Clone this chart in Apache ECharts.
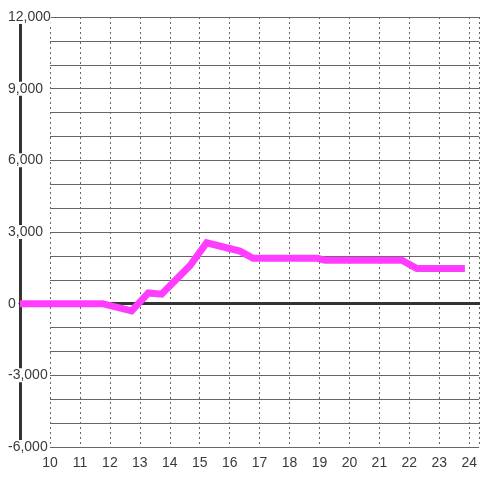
<!DOCTYPE html>
<html>
<head>
<meta charset="utf-8">
<script src="https://cdn.jsdelivr.net/npm/echarts@6/dist/echarts.min.js"></script>
<style>
  html, body { margin: 0; padding: 0; background: #fff; }
  #chart { width: 480px; height: 480px; }
</style>
</head>
<body>
<div id="chart"></div>
<script>
// hours of the day and the running value at each point
const hours = [9, 11.75, 12.72, 13.28, 13.72, 14.67, 15.22, 16.33, 16.77, 18.9, 19.17, 21.73, 22.23, 23.83];
const values = [0, 0, -300, 450, 400, 1600, 2550, 2200, 1900, 1900, 1820, 1820, 1470, 1470];

const Y_MIN = -6000;
const Y_MAX = 12000;
const FONT = 'Liberation Sans, Arial, sans-serif';

const chart = echarts.init(document.getElementById('chart'));

const option = {
  backgroundColor: '#fff',
  animation: false,
  grid: [
    // grid 0: series, left axis line and labels, zero line
    { left: 20, right: 0, top: 17, bottom: 33 },
    // grid 1: only the grid lines and hour labels
    { left: 50, right: 0, top: 17, bottom: 33 }
  ],
  xAxis: [
    {
      gridIndex: 0,
      type: 'value',
      min: 9,
      max: 24.333,
      axisLine: { onZero: true, lineStyle: { color: '#333', width: 3 } },
      axisTick: { show: false },
      axisLabel: { show: false },
      splitLine: { show: false },
      z: 3
    },
    {
      gridIndex: 1,
      type: 'value',
      min: 10,
      max: 24.333,
      interval: 1,
      axisLine: { show: false },
      axisTick: { show: false },
      axisLabel: {
        fontSize: 14,
        fontFamily: FONT,
        color: '#3a3a3a',
        margin: 9,
        showMaxLabel: false
      },
      splitLine: {
        show: true,
        lineStyle: { color: '#666', width: 1, type: [2, 3] }
      }
    }
  ],
  yAxis: [
    {
      gridIndex: 0,
      type: 'value',
      min: Y_MIN,
      max: Y_MAX,
      interval: 3000,
      axisLine: { show: true, onZero: false, lineStyle: { color: '#333', width: 3 } },
      axisTick: { show: false },
      axisLabel: {
        align: 'left',
        margin: 12,
        fontSize: 14,
        fontFamily: FONT,
        color: '#3a3a3a',
        backgroundColor: '#fff',
        formatter: (v) => v.toLocaleString('en-US')
      },
      splitLine: { show: false },
      z: 4
    },
    {
      gridIndex: 1,
      type: 'value',
      min: Y_MIN,
      max: Y_MAX,
      interval: 1000,
      axisLine: { show: false },
      axisTick: { show: false },
      axisLabel: { show: false },
      splitLine: { show: true, lineStyle: { color: '#666', width: 1 } }
    }
  ],
  series: [
    {
      type: 'line',
      xAxisIndex: 0,
      yAxisIndex: 0,
      data: hours.map((h, i) => [h, values[i]]),
      showSymbol: false,
      symbol: 'none',
      lineStyle: { color: '#ff3cff', width: 7, join: 'miter' },
      z: 5
    }
  ]
};

chart.setOption(option);
</script>
</body>
</html>
